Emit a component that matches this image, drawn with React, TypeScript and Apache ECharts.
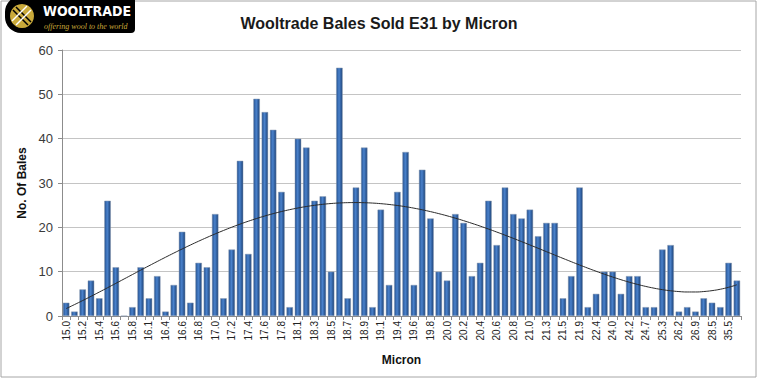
import React, { useEffect, useRef } from "react";
import * as echarts from "echarts";

const microns = [
  "15.0","15.1","15.2","15.3","15.4","15.5","15.6","15.7","15.8","16.0",
  "16.1","16.2","16.4","16.5","16.6","16.7","16.8","16.9","17.0","17.1",
  "17.2","17.3","17.4","17.5","17.6","17.7","17.8","18.0","18.1","18.2",
  "18.3","18.4","18.5","18.6","18.7","18.8","18.9","19.0","19.1","19.2",
  "19.4","19.5","19.6","19.7","19.8","19.9","20.0","20.1","20.2","20.3",
  "20.4","20.5","20.6","20.7","20.8","20.9","21.0","21.2","21.3","21.4",
  "21.5","21.7","21.9","22.1","22.4","23.1","24.0","24.1","24.2","24.5",
  "24.7","25.0","25.3","25.8","26.2","26.5","26.9","27.6","28.5","30.2",
  "35.5","36.4"
];

const bales = [
  3,1,6,8,4,26,11,0,2,11,4,9,1,7,19,3,12,11,23,4,15,35,14,
  49,46,42,28,2,40,38,26,27,10,56,4,29,38,2,24,7,28,37,7,33,22,10,8,
  23,21,9,12,26,16,29,23,22,24,18,21,21,4,9,29,2,5,10,10,5,9,9,
  2,2,15,16,1,2,1,4,3,2,12,8
];

const trendOrder = 4;

// Least-squares polynomial trendline (as in the spreadsheet's polynomial trendline)
function polyFit(ys: number[], order: number): number[] {
  const n = ys.length;
  const xs = ys.map((_, i) => (2 * i) / (n - 1) - 1);
  const m = order + 1;
  const A: number[][] = [];
  for (let r = 0; r < m; r++) {
    const row: number[] = [];
    for (let c = 0; c < m; c++) {
      let s = 0;
      for (let k = 0; k < n; k++) s += Math.pow(xs[k], r + c);
      row.push(s);
    }
    let b = 0;
    for (let k = 0; k < n; k++) b += ys[k] * Math.pow(xs[k], r);
    row.push(b);
    A.push(row);
  }
  for (let i = 0; i < m; i++) {
    let p = i;
    for (let r = i + 1; r < m; r++) if (Math.abs(A[r][i]) > Math.abs(A[p][i])) p = r;
    [A[i], A[p]] = [A[p], A[i]];
    for (let r = 0; r < m; r++) {
      if (r === i) continue;
      const f = A[r][i] / A[i][i];
      for (let c = i; c <= m; c++) A[r][c] -= f * A[i][c];
    }
  }
  const coef = A.map((row, i) => row[m] / row[i]);
  return xs.map((x) => coef.reduce((s, c, j) => s + c * Math.pow(x, j), 0));
}

export default function App() {
  const ref = useRef<HTMLDivElement>(null);
  useEffect(() => {
    if (!ref.current) return;
    const chart = echarts.init(ref.current, null, { renderer: "svg" });
    chart.setOption({
      animation: false,
      backgroundColor: "#ffffff",
      title: {
        text: "Wooltrade Bales Sold E31 by Micron",
        left: "center",
        top: 10,
        textStyle: { fontFamily: "Liberation Sans", fontWeight: "bold", fontSize: 16, color: "#1a1a1a" },
      },
      grid: { left: 62, top: 50, width: 679, height: 266 },
      xAxis: {
        type: "category",
        data: microns,
        name: "Micron",
        nameLocation: "middle",
        nameGap: 38,
        nameTextStyle: { fontFamily: "Liberation Sans", fontWeight: "bold", fontSize: 12, color: "#111" },
        axisLine: { lineStyle: { color: "#8c8c8c" } },
        axisTick: { show: true, interval: 0, length: 4, lineStyle: { color: "#8c8c8c" } },
        axisLabel: { interval: 1, rotate: 90, fontFamily: "Liberation Sans", fontSize: 10, color: "#222", margin: 5 },
      },
      yAxis: {
        type: "value",
        min: 0,
        max: 60,
        interval: 10,
        name: "No. Of Bales",
        nameLocation: "middle",
        nameGap: 26,
        nameTextStyle: { fontFamily: "Liberation Sans", fontWeight: "bold", fontSize: 12, color: "#111" },
        axisLine: { show: true, lineStyle: { color: "#8c8c8c" } },
        axisTick: { show: true, length: 4, lineStyle: { color: "#8c8c8c" } },
        axisLabel: { fontFamily: "Liberation Sans", fontSize: 13, color: "#3a3a3a", margin: 9 },
        splitLine: { lineStyle: { color: "#c4c4c4", width: 1 } },
      },
      graphic: [
        { type: "rect", shape: { x: 1, y: 1, width: 755, height: 376 }, style: { fill: "none", stroke: "#a6a6a6", lineWidth: 1 }, z: 0 },
        { type: "rect", shape: { x: 5, y: -4, width: 130, height: 37, r: [16, 4, 4, 16] }, style: { fill: "#000000" }, z: 10 },
        { type: "circle", shape: { cx: 22, cy: 16, r: 12 }, style: { fill: "#c9a93a" }, z: 11 },
        { type: "line", shape: { x1: 13, y1: 10, x2: 28, y2: 25 }, style: { stroke: "#000", lineWidth: 1.5 }, z: 12 },
        { type: "line", shape: { x1: 16, y1: 7, x2: 31, y2: 22 }, style: { stroke: "#000", lineWidth: 1.5 }, z: 12 },
        { type: "line", shape: { x1: 12, y1: 21, x2: 27, y2: 6 }, style: { stroke: "#fff", lineWidth: 1.5 }, z: 12 },
        { type: "line", shape: { x1: 16, y1: 25, x2: 31, y2: 10 }, style: { stroke: "#fff", lineWidth: 1.5 }, z: 12 },
        { type: "text", x: 43, y: 4, style: { text: "WOOLTRADE", fill: "#ffffff", font: "bold 14px 'DejaVu Sans Condensed', 'Liberation Sans'" }, z: 12 },
        { type: "text", x: 44, y: 22, style: { text: "offering wool to the world", fill: "#c9a93a", font: "italic 8px 'Liberation Serif'" }, z: 12 },
      ],
      series: [
        {
          type: "bar",
          data: bales,
          barCategoryGap: "22%",
          itemStyle: {
            color: new echarts.graphic.LinearGradient(0, 0, 1, 0, [
              { offset: 0, color: "#23508f" },
              { offset: 0.45, color: "#4a82cc" },
              { offset: 1, color: "#1c4278" },
            ]),
            borderColor: "#8a9ab0",
            borderWidth: 0.5,
          },
        },
        {
          type: "line",
          data: polyFit(bales, trendOrder),
          showSymbol: false,
          smooth: true,
          lineStyle: { color: "#2b2b2b", width: 1 },
        },
      ],
    });
    return () => chart.dispose();
  }, []);
  return <div ref={ref} style={{ width: 758, height: 379, position: "absolute", left: 0, top: 0 }} />;
}
